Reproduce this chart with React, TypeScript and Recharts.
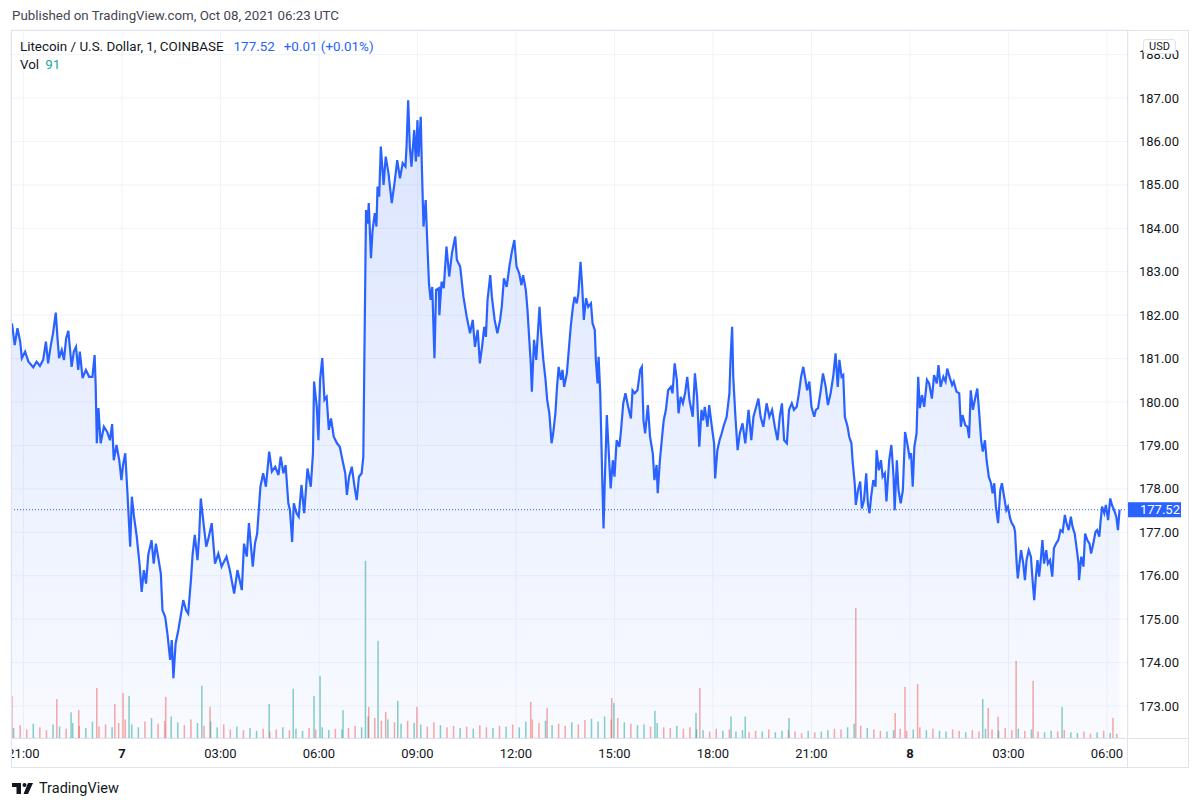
import React from "react";
import {
  ComposedChart,
  Area,
  Bar,
  Cell,
  XAxis,
  YAxis,
  CartesianGrid,
  ReferenceLine,
} from "recharts";

// minutes from Oct 7 00:00 UTC, 1-minute LTC/USD on Coinbase
const priceMinutes = [
  -201, -196, -191, -186, -183, -177, -171, -162, -156, -150, -144, -139, -135, -130, -126, -121, -118, -115, -110, -106,
  -102, -98, -92, -88, -84, -80, -77, -72, -66, -60, -54, -50, -48, -46, -43, -39, -33, -27, -22, -18,
  -15, -10, -5, -1, 2, 6, 10, 15, 18, 22, 27, 32, 36, 40, 44, 48, 54, 58, 62, 66,
  71, 74, 79, 83, 88, 91, 94, 98, 103, 107, 112, 117, 121, 126, 129, 133, 138, 141, 144, 149,
  154, 158, 164, 170, 176, 182, 191, 197,
  205, 211, 219, 223, 228, 232, 239, 243, 247, 253, 258, 263, 269, 274, 280, 286, 290, 295, 299, 304,
  307, 311, 314, 319, 323, 328, 333, 339, 345, 349, 351, 356, 359, 362, 366, 370, 374, 378, 382, 387,
  393, 398, 403, 408, 411, 415, 420, 425, 429, 433, 438, 441, 443, 445, 446, 449, 451, 455, 458, 462,
  465, 467, 470, 473, 478, 482, 487, 493, 498, 503, 508, 513, 518, 520, 523, 526, 529, 534, 537, 540,
  542, 546, 548, 551, 555, 558, 561, 564, 567, 571, 574, 579, 580, 584, 588, 593, 598, 603, 609, 612,
  618,
  624, 630, 636, 641, 645, 650, 654, 658, 662, 665, 668, 673, 676, 681, 686, 691, 694, 698, 703, 708,
  712, 717, 721, 726, 730, 733, 738, 741, 744, 747, 749, 753, 757, 760, 763, 766, 770, 774, 777, 781,
  785, 788, 792, 795, 798, 802, 805, 808, 813, 816, 820, 824, 827, 831, 834, 838, 841, 844, 848, 852,
  857, 860, 864, 866, 869, 871, 874, 876, 878, 880, 882, 886, 889, 893, 897, 900, 904, 909, 912, 916,
  920, 925, 930, 933, 937, 942, 947, 950, 953, 956, 961, 965, 970, 973, 977, 979, 983, 987, 990, 994,
  998, 1003, 1006, 1010, 1014, 1017, 1021, 1025, 1029, 1033, 1037,
  1043, 1047, 1051, 1055, 1059, 1062, 1065, 1070, 1073, 1078, 1082, 1084, 1088, 1092, 1096, 1100, 1105, 1110, 1112, 1115,
  1117, 1121, 1125, 1129, 1134, 1139, 1145, 1150, 1154, 1159, 1163, 1167, 1172, 1178, 1183, 1188, 1193, 1198, 1202, 1206,
  1210, 1215, 1219, 1224, 1228, 1233, 1237, 1241, 1245, 1249, 1252, 1256, 1260, 1265, 1268, 1272, 1277, 1281, 1286, 1290,
  1295, 1300, 1304, 1308, 1311, 1315, 1318, 1321, 1326, 1329, 1333, 1335, 1339, 1341, 1345, 1349, 1352, 1356, 1360, 1363,
  1366, 1369, 1373, 1377, 1379, 1383, 1387, 1390, 1394, 1397, 1402, 1406, 1410, 1412, 1416, 1419, 1423, 1427, 1431, 1435,
  1439, 1442, 1445, 1448, 1452, 1455, 1458, 1462, 1466, 1471, 1475, 1480, 1484, 1489, 1492, 1496, 1501, 1505, 1508, 1513,
  1517, 1520, 1525, 1530, 1533, 1536, 1541, 1545, 1548, 1551, 1555, 1559, 1563, 1567, 1570, 1573, 1577, 1580, 1584, 1588,
  1591, 1594, 1597, 1601, 1605, 1608, 1612, 1616, 1619, 1623, 1626, 1630, 1632, 1635, 1637, 1640, 1643, 1647, 1650, 1653,
  1657, 1661, 1664, 1667, 1670, 1673, 1676, 1679, 1682, 1685, 1689, 1692, 1696, 1700, 1703, 1707, 1711, 1715, 1719, 1723,
  1726, 1730, 1734, 1737, 1741, 1745, 1748, 1749, 1753, 1757, 1760, 1764, 1768, 1771, 1775, 1779, 1782, 1786, 1788, 1791,
  1795, 1798, 1802, 1806, 1809, 1813, 1817, 1820, 1823,
];

const prices = [
  181.81, 181.31, 181.7, 181.39, 181.01, 181.16, 180.93, 180.8, 180.93, 180.83, 180.97, 181.39, 180.89, 181.31, 181.58, 182.06, 181.5, 181.01, 181.2, 180.97,
  181.47, 181.64, 180.81, 181.16, 181.27, 180.74, 181.16, 180.55, 180.74, 180.58, 180.58, 181.08, 180.35, 179.05, 179.86, 179.05, 179.43, 179.31, 179.12, 179.49,
  178.66, 179.01, 178.66, 178.2, 178.55, 178.82, 177.9, 176.67, 177.82, 177.36, 176.9, 176.28, 175.63, 176.13, 175.82, 176.48, 176.82, 176.28, 176.74, 176.44,
  176.05, 175.21, 175.05, 174.67, 174.06, 174.52, 173.64, 174.44, 174.75, 175.05, 175.44, 175.21, 175.13, 175.9, 176.48, 176.94, 176.36, 176.9, 177.78, 177.21,
  176.67, 176.86, 177.21, 176.28, 176.51, 176.21, 176.44, 176.13,
  175.59, 176.13, 175.67, 176.74, 176.44, 177.21, 176.21, 176.74, 176.97, 178.05, 178.36, 178.05, 178.86, 178.4, 178.51, 178.32, 178.74, 178.36, 178.55, 177.67,
  177.51, 176.78, 177.67, 177.44, 177.36, 178.09, 177.44, 178.47, 178.05, 178.82, 180.47, 179.89, 179.12, 180.51, 181.01, 180.05, 180.12, 179.36, 179.62, 179.2,
  179.05, 178.97, 178.66, 178.36, 177.86, 178.28, 178.51, 178.05, 177.74, 178.28, 178.36, 178.74, 181.04, 183.34, 184.42, 184.11, 184.58, 183.31, 183.96, 184.35,
  184.04, 184.96, 184.73, 185.88, 185.0, 185.65, 185.27, 184.58, 185.04, 185.57, 185.15, 185.5, 185.42, 185.88, 186.95, 185.88, 185.42, 186.26, 185.54, 186.49,
  185.65, 186.57, 185.42, 184.04, 184.65, 183.65, 182.73, 182.35, 182.65, 181.01, 182.58, 182.62, 182.0, 182.77, 182.62, 183.58, 182.89, 183.43, 183.81, 183.27,
  183.12,
  182.42, 181.96, 181.58, 181.89, 181.27, 181.66, 180.89, 181.27, 181.73, 181.5, 182.35, 182.92, 182.42, 181.89, 181.58, 181.89, 182.19, 182.85, 182.65, 183.12,
  183.43, 183.73, 183.12, 182.96, 182.69, 182.92, 182.58, 182.12, 181.5, 180.89, 180.24, 181.43, 180.97, 181.58, 182.19, 181.58, 180.97, 180.51, 180.05, 179.74,
  179.05, 179.28, 179.74, 180.35, 180.81, 180.51, 180.74, 180.35, 180.66, 181.12, 181.73, 182.19, 182.42, 182.27, 182.5, 183.23, 182.65, 181.89, 182.39, 182.19,
  182.27, 181.81, 181.66, 180.97, 180.43, 181.04, 180.2, 179.12, 178.05, 177.09, 178.05, 179.7, 178.97, 178.01, 178.66, 178.28, 179.12, 178.97, 179.36, 179.97,
  180.2, 179.89, 179.62, 180.27, 180.2, 180.27, 180.74, 180.81, 179.58, 179.28, 179.93, 179.2, 178.82, 178.2, 178.55, 177.9, 178.66, 179.2, 179.58, 179.82,
  180.27, 180.35, 180.2, 180.89, 180.51, 179.74, 180.12, 179.97, 180.2, 180.58, 180.05,
  179.66, 180.66, 180.12, 178.97, 179.82, 179.58, 179.89, 179.43, 179.93, 179.43, 179.05, 178.24, 178.89, 179.12, 179.28, 179.47, 179.66, 180.2, 180.97, 181.73,
  180.58, 179.66, 178.89, 179.28, 179.51, 179.05, 179.82, 179.12, 179.66, 179.89, 180.08, 179.66, 179.43, 179.97, 179.66, 179.82, 179.43, 179.12, 179.66, 179.97,
  179.12, 179.05, 179.82, 179.97, 179.82, 179.89, 180.2, 180.58, 180.81, 180.51, 180.27, 180.47, 179.89, 179.66, 179.82, 179.86, 180.27, 180.66, 180.35, 179.93,
  180.2, 180.62, 181.12, 180.35, 180.97, 180.58, 180.62, 179.66, 179.43, 179.2, 179.05, 178.66, 178.13, 177.63, 177.97, 178.17, 177.55, 177.74, 178.36, 177.67,
  177.44, 177.82, 178.2, 178.05, 178.89, 178.43, 178.66, 178.28, 178.36, 177.71, 178.66, 179.01, 178.28, 177.51, 178.66, 177.97, 177.67, 177.97, 179.31, 179.05,
  178.74, 178.82, 178.05, 178.97, 179.28, 180.58, 179.86, 180.16, 179.89, 180.51, 180.43, 180.08, 180.62, 180.43, 180.85, 180.35, 180.58, 180.47, 180.77, 180.55,
  180.39, 180.47, 180.24, 180.2, 179.43, 179.7, 179.47, 179.43, 179.17, 180.27, 179.82, 180.08, 180.31, 179.66, 179.12, 178.86, 179.12, 178.66, 178.28, 178.13,
  177.9, 178.13, 177.59, 177.21, 177.97, 178.13, 177.82, 177.51, 177.59, 177.32, 177.21, 177.13, 177.01, 176.28, 175.94, 176.28, 176.59, 176.28, 175.9, 176.36,
  176.59, 176.44, 175.9, 175.44, 175.98, 176.36, 175.98, 176.36, 176.82, 176.28, 176.59, 176.28, 176.36, 175.98, 176.63, 176.74, 176.82, 177.05, 177.01, 177.4,
  177.21, 177.05, 177.36, 177.13, 176.97, 176.59, 176.28, 175.9, 176.44, 176.21, 176.97, 176.82, 176.74, 176.51, 176.74, 177.01, 177.05, 176.9, 177.21, 177.59,
  177.44, 177.63, 177.28, 177.78, 177.63, 177.51, 177.36, 177.05, 177.52,
];

// background volume (small bars)
const fuzzMinutes = [
  -198, -186, -174, -162, -150, -138, -126, -114, -102, -90, -78, -66, -54, -42, -30, -18, -6,
  6, 18, 30, 42, 54, 66, 78, 90, 102, 114, 126, 138, 150, 162, 174, 186, 198, 210, 222, 234, 246, 258, 270, 282, 294, 306, 318, 330, 342, 354,
  366, 378, 390, 402, 414, 426, 438, 450, 462, 474, 486, 498, 510, 522, 534, 546, 558, 570, 582, 594, 606, 618, 630, 642, 654, 666, 678, 690,
  702, 714, 726, 738, 750, 762, 774, 786, 798, 810, 822, 834, 846, 858, 870, 882, 894, 906, 918, 930, 942, 954, 966, 978, 990, 1002, 1014, 1026, 1038, 1050,
  1062, 1074, 1086, 1098, 1110, 1122, 1134, 1146, 1158, 1170, 1182, 1194, 1206, 1218, 1230, 1242, 1254, 1266, 1278, 1290, 1302, 1314, 1326, 1338, 1350, 1362, 1374, 1386, 1398, 1410, 1422, 1434, 1446,
  1458, 1470, 1482, 1494, 1506, 1518, 1530, 1542, 1554, 1566, 1578, 1590, 1602, 1614, 1626, 1638, 1650, 1662, 1674, 1686, 1698, 1710, 1722, 1734, 1746, 1758, 1770, 1782, 1794, 1806, 1818,
];
const fuzzVolumes = [
  140, 180, 120, 200, 150, 110, 190, 160, 130, 210, 170, 140, 230, 160, 190, 150, 210,
  260, 190, 150, 230, 280, 200, 240, 300, 220, 180, 260, 210, 170, 230, 150, 190, 120, 160, 110, 140, 100, 130, 90, 120, 150, 110, 130, 100, 140, 120,
  150, 110, 130, 120, 140, 170, 150, 300, 280, 240, 260, 220, 200, 240, 210, 190, 160, 220, 180, 150, 170, 140, 160, 130, 180, 150, 140, 170,
  160, 190, 150, 230, 260, 210, 240, 180, 200, 170, 220, 190, 250, 270, 230, 300, 260, 280, 220, 200, 180, 190, 160, 210, 150, 140, 170, 130, 150, 120,
  110, 90, 130, 100, 120, 90, 110, 80, 100, 90, 120, 80, 100, 110, 90, 70, 100, 80, 90, 110, 130, 120, 150, 200, 170, 140, 120, 100, 90, 110, 130, 100, 120,
  150, 110, 130, 100, 90, 120, 100, 80, 110, 90, 130, 120, 100, 140, 110, 130, 100, 120, 90, 80, 100, 90, 110, 80, 70, 90, 60, 80, 100, 70, 60,
];
const fuzzSides =
  "uddudduudu duuddudduu dudduuddud uudduduudd duduudduud udduuddudu duudduddud uddududuud duuddudduu udduduudud dudduuddud uudduduudd duduudduud udduuddudu duudduddud uddududuud duuddudud".replace(/ /g, "");

// tall volume bars
const spikeMinutes = [
  -201, -119, -93, -79, -46, -13, 2, 13, 80, 146, 161, 269, 313, 351, 362, 404, 445, 451, 468, 482,
  504, 539, 747, 777, 895, 899, 974, 1049, 1056, 1113, 1139, 1219, 1341, 1413, 1431, 1454, 1573, 1583, 1601, 1634,
  1665, 1718, 1811,
];
const spikeVolumes = [
  590, 545, 360, 390, 700, 475, 630, 590, 575, 730, 435, 475, 690, 590, 870, 390, 2480, 435, 1360, 365,
  520, 435, 505, 420, 560, 490, 380, 350, 700, 300, 300, 280, 1820, 350, 715, 755, 545, 420, 300, 1080,
  800, 435, 280,
];
const spikeSides = "dduddddudu" + "duuuuuudud" + "udddduuudu" + "uudddduddd" + "dud";

const priceTicks = [173, 174, 175, 176, 177, 178, 179, 180, 181, 182, 183, 184, 185, 186, 187, 188];
const timeTicks = [-180, 0, 180, 360, 540, 720, 900, 1080, 1260, 1440, 1620, 1800];
const timeTickLabels = ["21:00", "7", "03:00", "06:00", "09:00", "12:00", "15:00", "18:00", "21:00", "8", "03:00", "06:00"];

const lastPrice = 177.52;

type Row = { t: number; price?: number; vol?: number; up?: boolean };

const rowMap = new Map<number, Row>();
const rowAt = (t: number) => {
  if (!rowMap.has(t)) rowMap.set(t, { t });
  return rowMap.get(t)!;
};
priceMinutes.forEach((t, i) => (rowAt(t).price = prices[i]));
fuzzMinutes.forEach((t, i) => {
  const r = rowAt(t);
  r.vol = fuzzVolumes[i];
  r.up = (fuzzSides[i] ?? "u") === "u";
});
spikeMinutes.forEach((t, i) => {
  const r = rowAt(t);
  r.vol = spikeVolumes[i];
  r.up = spikeSides[i] === "u";
});
const rows = [...rowMap.values()].sort((a, b) => a.t - b.t);

const FONT = "Roboto, 'Trebuchet MS', sans-serif";
const BORDER = "#e0e3eb";
const UP = "rgba(38,166,154,0.55)";
const DOWN = "rgba(239,83,80,0.5)";

const TimeTick = ({ x, y, payload }: any) => {
  const idx = timeTicks.indexOf(payload.value);
  const label = timeTickLabels[idx] ?? "";
  const bold = !label.includes(":");
  return (
    <text x={x} y={y} dy="0.71em" textAnchor="middle" fontSize={13} fontFamily={FONT}
      fontWeight={bold ? 700 : 400} fill="#131722">
      {label}
    </text>
  );
};

// thin volume stick centred on its minute
const VolStick = ({ x, y, width, height, fill }: any) => {
  if (!height || height <= 0) return null;
  return <rect x={x + width / 2 - 0.75} y={y} width={1.5} height={height} fill={fill} />;
};

const PriceTag = ({ viewBox }: any) => {
  const x = viewBox.x + viewBox.width;
  const y = viewBox.y;
  return (
    <g>
      <rect x={x} y={y - 7.5} width={53} height={15} fill="#2962ff" />
      <text x={x + 12} y={y} dy="0.36em" fill="#ffffff" fontSize={13} fontFamily={FONT}>
        {lastPrice.toFixed(2)}
      </text>
    </g>
  );
};

const line = (style: React.CSSProperties) => (
  <div style={{ position: "absolute", background: BORDER, ...style }} />
);

export default function App() {
  return (
    <div style={{ position: "absolute", left: 0, top: 0, width: 1200, height: 807, background: "#fff", fontFamily: FONT }}>
      <ComposedChart
        width={1200}
        height={807}
        data={rows}
        margin={{ top: 30, right: 0, bottom: 39, left: 11 }}
      >
        <defs>
          <linearGradient id="ltcFill" x1="0" y1="0" x2="0" y2="1">
            <stop offset="0" stopColor="#2962ff" stopOpacity={0.28} />
            <stop offset="1" stopColor="#2962ff" stopOpacity={0.05} />
          </linearGradient>
        </defs>
        <CartesianGrid stroke="#f0f3fa" yAxisId="price" />
        <XAxis
          dataKey="t"
          type="number"
          domain={[-202.8, 1838.4]}
          allowDataOverflow
          ticks={timeTicks}
          interval={0}
          tick={<TimeTick />}
          axisLine={false}
          tickLine={false}
          tickSize={0}
          tickMargin={11}
          height={30}
        />
        <YAxis
          yAxisId="price"
          orientation="right"
          width={72}
          domain={[172.264, 188.566]}
          allowDataOverflow
          ticks={priceTicks}
          interval={0}
          tickFormatter={(v: number) => v.toFixed(2)}
          tick={{ fill: "#131722", fontSize: 13, fontFamily: FONT }}
          axisLine={false}
          tickLine={false}
          tickSize={0}
          tickMargin={11}
        />
        <YAxis yAxisId="vol" hide domain={[0, 9912]} />
        <Bar yAxisId="vol" dataKey="vol" barSize={2} shape={<VolStick />} isAnimationActive={false}>
          {rows.map((r) => (
            <Cell key={r.t} fill={r.up ? UP : DOWN} />
          ))}
        </Bar>
        <Area
          yAxisId="price"
          type="linear"
          dataKey="price"
          stroke="#2962ff"
          strokeWidth={2.2}
          fill="url(#ltcFill)"
          connectNulls
          dot={false}
          activeDot={false}
          isAnimationActive={false}
        />
        <ReferenceLine
          yAxisId="price"
          y={lastPrice}
          stroke="#2962ff"
          strokeDasharray="1 2"
          label={<PriceTag />}
        />
      </ComposedChart>

      {/* clip the first time label at the pane edge */}
      <div style={{ position: "absolute", left: 0, top: 739, width: 11, height: 29, background: "#fff" }} />

      {line({ left: 11, top: 30, width: 1178, height: 1 })}
      {line({ left: 11, top: 30, width: 1, height: 738 })}
      {line({ left: 1188, top: 30, width: 1, height: 738 })}
      {line({ left: 11, top: 767, width: 1178, height: 1 })}
      {line({ left: 1127, top: 30, width: 1, height: 738 })}
      {line({ left: 11, top: 738, width: 1178, height: 1 })}

      <div style={{ position: "absolute", left: 12, top: 8, fontSize: 13.3, color: "#434651", whiteSpace: "nowrap" }}>
        Published on TradingView.com, Oct 08, 2021 06:23 UTC
      </div>
      <div style={{ position: "absolute", left: 20, top: 39, fontSize: 13.4, color: "#131722", whiteSpace: "nowrap" }}>
        Litecoin / U.S. Dollar, 1, COINBASE
        <span style={{ color: "#2962ff", marginLeft: 10 }}>177.52</span>
        <span style={{ color: "#2962ff", marginLeft: 9 }}>+0.01 (+0.01%)</span>
      </div>
      <div style={{ position: "absolute", left: 20, top: 57, fontSize: 13.4, color: "#131722", whiteSpace: "nowrap" }}>
        Vol<span style={{ color: "#26a69a", marginLeft: 6 }}>91</span>
      </div>

      <div
        style={{
          position: "absolute", left: 1143, top: 39, width: 31, height: 13, border: `1px solid ${BORDER}`,
          borderRadius: 3, background: "#fff", fontSize: 11, lineHeight: "13px", textAlign: "center", color: "#131722",
        }}
      >
        USD
      </div>

      <div style={{ position: "absolute", left: 12, top: 780, display: "flex", alignItems: "center" }}>
        <svg width={22} height={12} viewBox="0 0 22 12">
          <rect x={0} y={0} width={9} height={4} fill="#131722" />
          <rect x={4.5} y={0} width={4.5} height={11} fill="#131722" />
          <circle cx={12.5} cy={2} r={2} fill="#131722" />
          <polygon points="16,0 21,0 16,11 11.5,11" fill="#131722" />
        </svg>
        <span style={{ marginLeft: 5, fontSize: 14.5, color: "#131722" }}>TradingView</span>
      </div>
    </div>
  );
}
